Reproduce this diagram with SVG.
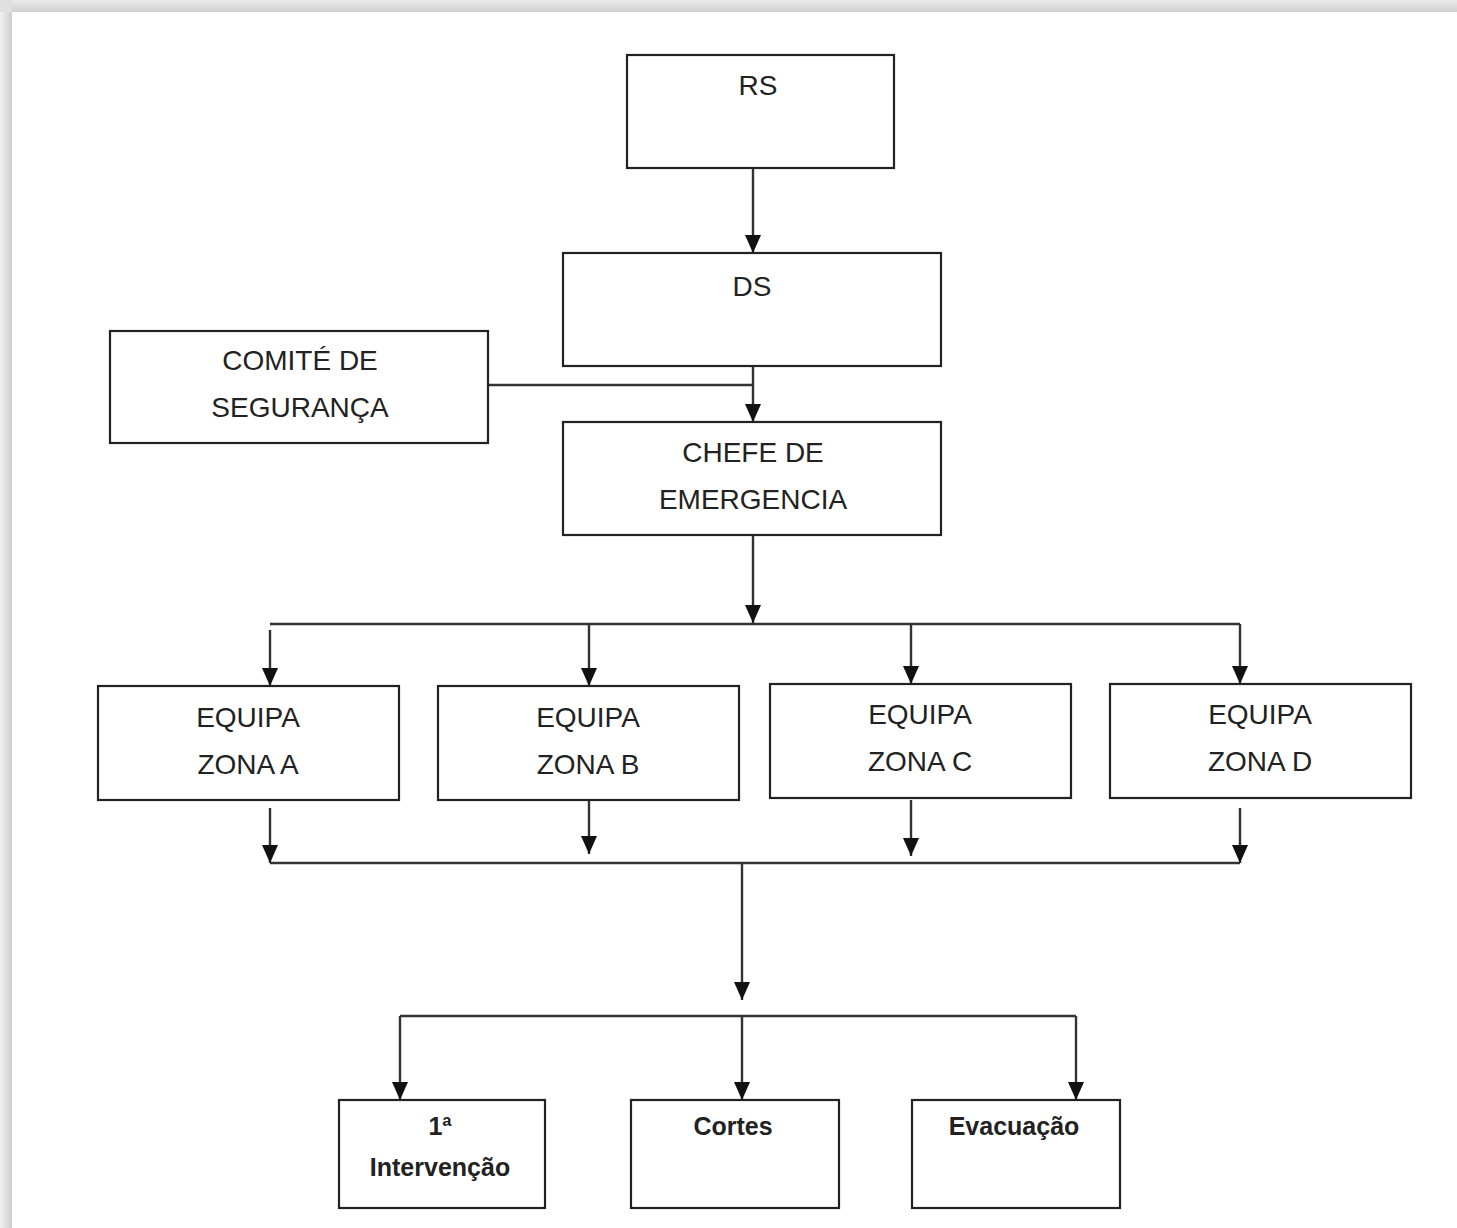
<svg xmlns="http://www.w3.org/2000/svg" width="1457" height="1228" viewBox="0 0 1457 1228">
<defs>
<linearGradient id="gl" x1="0" y1="0" x2="1" y2="0"><stop offset="0" stop-color="#f2f2f2"/><stop offset="1" stop-color="#cdcdcd"/></linearGradient>
<linearGradient id="gt" x1="0" y1="0" x2="0" y2="1"><stop offset="0" stop-color="#ececec"/><stop offset="1" stop-color="#cfcfcf"/></linearGradient>
<marker id="ah" markerUnits="userSpaceOnUse" markerWidth="20" markerHeight="20" viewBox="0 0 20 20" refX="18" refY="10" orient="auto">
<path d="M0,2 L18,10 L0,18 Z" fill="#111"/>
</marker>
</defs>
<style>
.box{fill:#fff;stroke:#222;stroke-width:2.2}
.t{font-family:"Liberation Sans",Arial,sans-serif;font-size:28px;fill:#222;text-anchor:middle}
.b{font-family:"Liberation Sans",Arial,sans-serif;font-size:25px;font-weight:bold;fill:#222;text-anchor:middle}
.c{fill:none;stroke:#333;stroke-width:2.4}
.a{marker-end:url(#ah)}
</style>
<rect x="0" y="0" width="1457" height="1228" fill="#fff"/>
<rect x="0" y="0" width="12" height="1228" fill="url(#gl)"/>
<rect x="0" y="0" width="1457" height="12" fill="url(#gt)"/>
<rect x="0" y="0" width="12" height="12" fill="#e0e0e0"/>

<g id="connectors">
<line class="c a" x1="753" y1="168" x2="753" y2="253"/>
<line class="c a" x1="753" y1="366" x2="753" y2="422"/>
<line class="c" x1="488" y1="385" x2="753" y2="385"/>
<line class="c a" x1="753" y1="535" x2="753" y2="623"/>
<line class="c" x1="270" y1="624" x2="1240" y2="624"/>
<line class="c a" x1="270" y1="630" x2="270" y2="686"/>
<line class="c a" x1="589" y1="624" x2="589" y2="686"/>
<line class="c a" x1="911" y1="624" x2="911" y2="684"/>
<line class="c a" x1="1240" y1="624" x2="1240" y2="684"/>
<line class="c a" x1="270" y1="808" x2="270" y2="863"/>
<line class="c a" x1="589" y1="800" x2="589" y2="854"/>
<line class="c a" x1="911" y1="800" x2="911" y2="856"/>
<line class="c a" x1="1240" y1="808" x2="1240" y2="863"/>
<line class="c" x1="270" y1="863" x2="1240" y2="863"/>
<line class="c a" x1="742" y1="863" x2="742" y2="1000"/>
<line class="c" x1="400" y1="1016" x2="1076" y2="1016"/>
<line class="c a" x1="400" y1="1016" x2="400" y2="1100"/>
<line class="c a" x1="742" y1="1016" x2="742" y2="1100"/>
<line class="c a" x1="1076" y1="1016" x2="1076" y2="1100"/>
</g>

<g id="rs"><rect class="box" x="627" y="55" width="267" height="113"/><text class="t" x="758" y="95">RS</text></g>
<g id="ds"><rect class="box" x="563" y="253" width="378" height="113"/><text class="t" x="752" y="296">DS</text></g>
<g id="comite"><rect class="box" x="110" y="331" width="378" height="112"/><text class="t" x="300" y="370">COMITÉ DE</text><text class="t" x="300" y="417">SEGURANÇA</text></g>
<g id="chefe"><rect class="box" x="563" y="422" width="378" height="113"/><text class="t" x="753" y="462">CHEFE DE</text><text class="t" x="753" y="509">EMERGENCIA</text></g>
<g id="zonaA"><rect class="box" x="98" y="686" width="301" height="114"/><text class="t" x="248" y="727">EQUIPA</text><text class="t" x="248" y="774">ZONA A</text></g>
<g id="zonaB"><rect class="box" x="438" y="686" width="301" height="114"/><text class="t" x="588" y="727">EQUIPA</text><text class="t" x="588" y="774">ZONA B</text></g>
<g id="zonaC"><rect class="box" x="770" y="684" width="301" height="114"/><text class="t" x="920" y="724">EQUIPA</text><text class="t" x="920" y="771">ZONA C</text></g>
<g id="zonaD"><rect class="box" x="1110" y="684" width="301" height="114"/><text class="t" x="1260" y="724">EQUIPA</text><text class="t" x="1260" y="771">ZONA D</text></g>
<g id="intervencao"><rect class="box" x="339" y="1100" width="206" height="108"/><text class="b" x="440" y="1135">1ª</text><text class="b" x="440" y="1176">Intervenção</text></g>
<g id="cortes"><rect class="box" x="631" y="1100" width="208" height="108"/><text class="b" x="733" y="1135">Cortes</text></g>
<g id="evacuacao"><rect class="box" x="912" y="1100" width="208" height="108"/><text class="b" x="1014" y="1135">Evacuação</text></g>
</svg>
